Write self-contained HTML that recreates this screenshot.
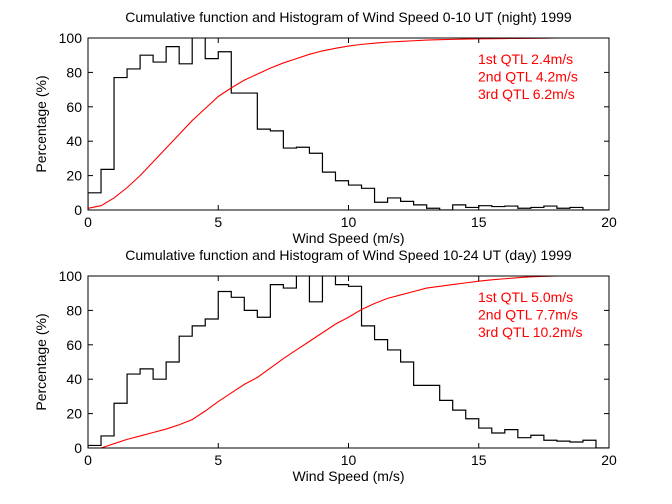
<!DOCTYPE html>
<html><head><meta charset="utf-8"><style>
body{margin:0;background:#fff;}
svg{display:block;font-family:"Liberation Sans",Arial,sans-serif;}
</style></head><body>
<svg id="fig" width="672" height="504" viewBox="0 0 672 504" xmlns="http://www.w3.org/2000/svg"></svg>
<script>
const binEdgesStart = 0, binWidth = 0.5;
const nightHist = [10,23.6,77,82,90,86,95,85,110,88,92,68,68,47,46,36,36.5,33,22,17,14.5,12.6,4.5,7,5,3,1,0,3,1.5,2.5,2,2.3,1,1.5,2.3,1,1.5,0,0];
const nightCum = [1,2.5,7,13,20,28,36,44,52,59,66,71,75.5,79,82.5,85.5,88,90.5,92.5,94,95.3,96.3,97,97.6,98,98.4,98.8,99,99.2,99.4,99.5,99.6,99.7,99.75,99.8,99.9,100,100,100,100,100];
const dayHist = [1.5,7,26,43,46,40,50,65,71,75,91,87.6,80,76,95,93,110,85,110,95,94,71,63,57,50,36.4,36.4,27.7,22,17,11.6,8.7,10.7,6,7.4,4.5,4,3.5,4.5,0];
const dayCum = [0,0,2.5,5,7,9,11,13.5,16.5,21.5,27,32,37,41,46.5,52,57,62,67,72,76,80.5,84,87,89,91,93,94,95,96,97,97.8,98.4,99,99.5,99.8,100,100,100,100,100];
const xTicks = [0,5,10,15,20];
const yTicks = [0,20,40,60,80,100];
const nightTitle = "Cumulative function and Histogram of Wind Speed 0-10 UT (night) 1999";
const dayTitle = "Cumulative function and Histogram of Wind Speed 10-24 UT (day) 1999";
const nightQ = ["1st QTL 2.4m/s","2nd QTL 4.2m/s","3rd QTL 6.2m/s"];
const dayQ = ["1st QTL 5.0m/s","2nd QTL 7.7m/s","3rd QTL 10.2m/s"];

const NS="http://www.w3.org/2000/svg";
const svg=document.getElementById('fig');
function mk(tag,attrs,parent){const e=document.createElementNS(NS,tag);for(const k in attrs)e.setAttribute(k,attrs[k]);(parent||svg).appendChild(e);return e;}

function panel(key,top,title,hist,cum,q){
  const L=88,R=609,T=top,B=top+172;
  const xs=v=>L+(v/20)*(R-L);
  const ys=v=>B-(v/100)*(B-T);
  const g=mk('g',{});
  
  
  const clipId='clip-'+key;
  const cp=mk('clipPath',{id:clipId},g);
  mk('rect',{x:L,y:T,width:R-L,height:B-T},cp);
  const t=mk('text',{x:(L+R)/2,y:T-16,'text-anchor':'middle','font-size':'14'},g);
  t.textContent=title;
  
  
  let d='M'+xs(0)+','+ys(0);
  hist.forEach((v,i)=>{const x0=xs(binEdgesStart+i*binWidth),x1=xs(binEdgesStart+(i+1)*binWidth);d+=' L'+x0+','+ys(v)+' L'+x1+','+ys(v);});
  d+=' L'+xs(20)+','+ys(0);
  const h=mk('path',{d:d,fill:'none',stroke:'#000','stroke-width':'1.2','clip-path':'url(#'+clipId+')'},g);
  
  
  const pts=cum.map((v,i)=>xs(i*binWidth)+','+ys(v)).join(' ');
  const c=mk('polyline',{points:pts,fill:'none',stroke:'#ff0000','stroke-width':'1.1'},g);
  
  
  const bx=mk('rect',{x:L,y:T,width:R-L,height:B-T,fill:'none',stroke:'#000','stroke-width':'1'},g);
  
  
  xTicks.forEach(v=>{
    mk('line',{x1:xs(v),x2:xs(v),y1:B,y2:B-5,stroke:'#000'},g);
    mk('line',{x1:xs(v),x2:xs(v),y1:T,y2:T+5,stroke:'#000'},g);
    const tl=mk('text',{x:xs(v),y:B+17,'text-anchor':'middle','font-size':'14'},g);
    tl.textContent=v;
    
    
  });
  yTicks.forEach(v=>{
    mk('line',{x1:L,x2:L+5,y1:ys(v),y2:ys(v),stroke:'#000'},g);
    mk('line',{x1:R,x2:R-5,y1:ys(v),y2:ys(v),stroke:'#000'},g);
    const tl=mk('text',{x:L-6,y:ys(v)+5,'text-anchor':'end','font-size':'14'},g);
    tl.textContent=v;
    
    
  });
  const xl=mk('text',{x:(L+R)/2,y:B+33,'text-anchor':'middle','font-size':'14'},g);
  xl.textContent='Wind Speed (m/s)';
  
  
  const yl=mk('text',{x:0,y:0,'text-anchor':'middle','font-size':'14',transform:'translate(46,'+((T+B)/2)+') rotate(-90)'},g);
  yl.textContent='Percentage (%)';
  
  
  q.forEach((s,i)=>{
    const qt=mk('text',{x:478,y:T+26+i*17.5,'font-size':'14',fill:'#ff0000'},g);
    qt.textContent=s;
    
    
  });
}
panel('night',38,nightTitle,nightHist,nightCum,nightQ);
panel('day',276,dayTitle,dayHist,dayCum,dayQ);
</script>
</body></html>
